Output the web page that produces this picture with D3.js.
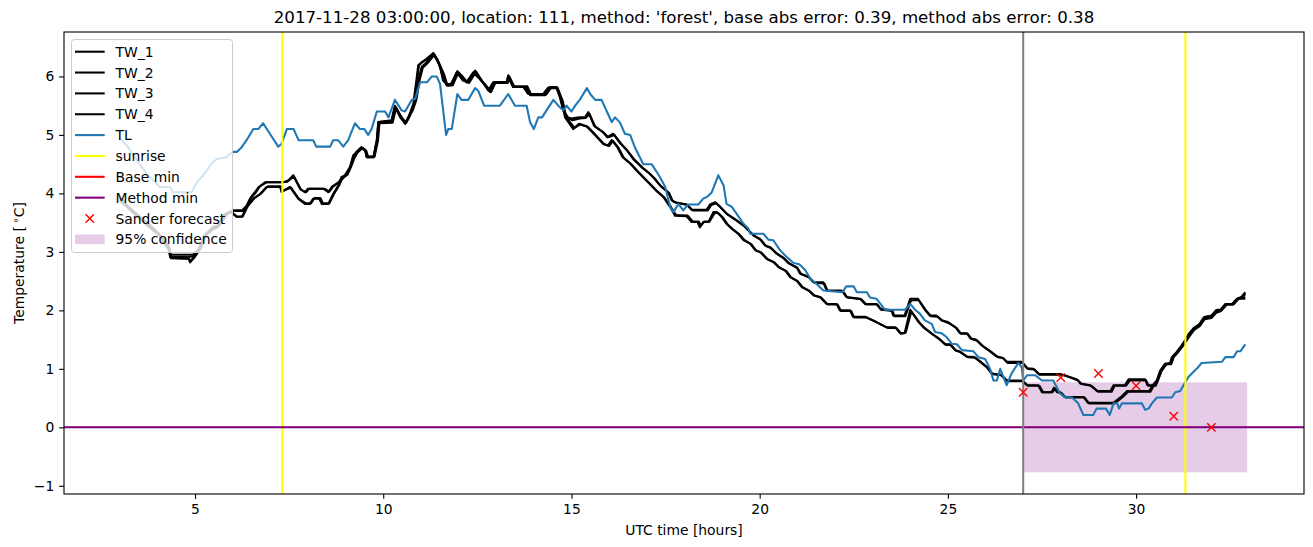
<!DOCTYPE html>
<html lang="en">
<head>
<meta charset="utf-8">
<title>Temperature forecast</title>
<style>
    body { margin: 0; background: #fff; }
    svg { display: block; font-family: "DejaVu Sans", sans-serif; }
    .tick text { font-family: "DejaVu Sans", sans-serif; font-size: 13.89px; fill: #000; }
    .tick line { stroke: #000; stroke-width: 1.1; }
</style>
</head>
<body>
<div id="container"></div>
<script src="https://cdn.jsdelivr.net/npm/d3@7"></script>
<script>
// ---- data (time in UTC hours, temperature in degC) ----
const TW_1 = [[3.0,3.95],[3.2,3.79],[3.45,3.65],[3.7,3.51],[4.0,3.34],[4.3,3.1],[4.35,2.95],[4.8,2.95],[4.95,2.95],[5.1,3.05],[5.25,3.28],[5.45,3.4],[5.6,3.45],[5.8,3.65],[6.0,3.71],[6.25,3.71],[6.37,3.79],[6.46,3.91],[6.59,4.02],[6.68,4.1],[6.86,4.19],[7.3,4.19],[7.45,4.2],[7.61,4.31],[7.79,4.08],[7.92,4.02],[8.0,4.08],[8.41,4.08],[8.54,4.02],[8.63,4.11],[8.81,4.19],[8.98,4.31],[9.12,4.45],[9.2,4.65],[9.42,4.79],[9.52,4.74],[9.56,4.62],[9.74,4.62],[9.83,4.91],[9.87,5.22],[10.22,5.25],[10.31,5.5],[10.45,5.33],[10.58,5.19],[10.67,5.3],[10.8,5.53],[10.88,5.93],[10.93,6.19],[11.02,6.24],[11.15,6.3],[11.33,6.4],[11.42,6.3],[11.51,6.16],[11.59,5.93],[11.68,5.87],[11.8,5.87],[11.97,6.09],[12.12,5.99],[12.21,5.9],[12.39,6.07],[12.52,5.99],[12.65,5.9],[12.79,5.76],[12.92,5.9],[13.28,5.9],[13.32,5.99],[13.45,5.82],[13.72,5.82],[13.85,5.7],[14.25,5.7],[14.38,5.81],[14.6,5.81],[14.69,5.65],[14.78,5.42],[14.9,5.3],[15.0,5.28],[15.2,5.3],[15.36,5.3],[15.45,5.39],[15.6,5.16],[15.84,5.05],[15.95,4.96],[16.11,5.02],[16.29,4.86],[16.47,4.74],[16.64,4.59],[16.86,4.45],[17.04,4.36],[17.17,4.28],[17.35,4.14],[17.57,4.02],[17.66,3.88],[17.75,3.85],[18.06,3.81],[18.19,3.72],[18.59,3.72],[18.68,3.81],[18.82,3.85],[18.95,3.77],[19.12,3.65],[19.25,3.6],[19.39,3.54],[19.57,3.45],[19.7,3.37],[19.84,3.28],[20.01,3.22],[20.14,3.11],[20.28,3.08],[20.45,2.97],[20.63,2.9],[20.76,2.81],[20.98,2.74],[21.07,2.63],[21.29,2.58],[21.43,2.48],[21.69,2.48],[21.78,2.34],[22.18,2.34],[22.3,2.23],[22.67,2.2],[22.8,2.11],[23.1,2.11],[23.2,2.03],[23.5,2.0],[23.55,1.91],[23.85,1.91],[24.0,2.2],[24.2,2.2],[24.39,2.01],[24.52,1.91],[24.7,1.91],[24.83,1.83],[25.0,1.8],[25.2,1.71],[25.32,1.61],[25.5,1.61],[25.6,1.52],[25.75,1.5],[25.9,1.4],[26.12,1.3],[26.3,1.21],[26.45,1.19],[26.56,1.12],[26.96,1.12],[27.1,1.01],[27.27,1.0],[27.41,0.91],[27.98,0.91],[28.1,0.89],[28.43,0.82],[28.52,0.75],[28.78,0.72],[28.96,0.62],[29.32,0.62],[29.4,0.72],[29.7,0.72],[29.8,0.82],[30.24,0.82],[30.3,0.72],[30.5,0.72],[30.55,0.8],[30.64,0.97],[30.77,1.09],[30.9,1.09],[30.95,1.2],[31.08,1.29],[31.21,1.4],[31.39,1.57],[31.52,1.69],[31.66,1.74],[31.79,1.86],[31.97,1.89],[32.1,1.97],[32.23,2.0],[32.37,2.11],[32.55,2.11],[32.68,2.2],[32.8,2.23],[32.9,2.31]];

const TW_2 = [[3.0,3.92],[3.22,3.77],[3.48,3.62],[3.72,3.5],[4.02,3.31],[4.32,3.05],[4.37,2.91],[4.8,2.91],[4.97,2.93],[5.12,3.05],[5.27,3.28],[5.47,3.42],[5.62,3.45],[5.82,3.65],[6.02,3.7],[6.28,3.7],[6.4,3.8],[6.5,3.93],[6.62,4.02],[6.72,4.12],[6.9,4.19],[7.35,4.19],[7.48,4.22],[7.63,4.29],[7.82,4.06],[7.95,4.02],[8.03,4.08],[8.44,4.08],[8.57,4.03],[8.66,4.11],[8.84,4.2],[9.0,4.3],[9.14,4.47],[9.23,4.66],[9.44,4.77],[9.54,4.72],[9.6,4.62],[9.76,4.63],[9.85,4.93],[9.89,5.22],[10.24,5.24],[10.33,5.48],[10.47,5.32],[10.6,5.2],[10.7,5.32],[10.82,5.55],[10.9,5.95],[10.95,6.19],[11.05,6.25],[11.18,6.3],[11.35,6.38],[11.45,6.28],[11.53,6.12],[11.61,5.92],[11.7,5.86],[11.83,5.88],[11.99,6.07],[12.14,5.97],[12.24,5.9],[12.41,6.05],[12.55,5.97],[12.68,5.88],[12.81,5.76],[12.95,5.9],[13.3,5.9],[13.34,5.97],[13.48,5.82],[13.75,5.82],[13.88,5.7],[14.28,5.7],[14.41,5.8],[14.62,5.8],[14.72,5.62],[14.8,5.4],[14.93,5.28],[15.03,5.25],[15.22,5.28],[15.38,5.29],[15.48,5.36],[15.63,5.14],[15.87,5.03],[15.98,4.96],[16.14,5.0],[16.32,4.85],[16.5,4.72],[16.67,4.58],[16.89,4.44],[17.07,4.34],[17.2,4.26],[17.38,4.12],[17.6,4.0],[17.69,3.87],[17.78,3.84],[18.09,3.8],[18.22,3.71],[18.62,3.71],[18.71,3.8],[18.85,3.83],[18.98,3.75],[19.15,3.64],[19.28,3.58],[19.42,3.52],[19.6,3.44],[19.73,3.35],[19.87,3.27],[20.04,3.2],[20.17,3.1],[20.31,3.06],[20.48,2.96],[20.66,2.88],[20.79,2.8],[21.01,2.72],[21.1,2.62],[21.32,2.56],[21.46,2.47],[21.72,2.46],[21.81,2.33],[22.21,2.33],[22.33,2.22],[22.7,2.19],[22.83,2.1],[23.13,2.1],[23.23,2.01],[23.53,1.99],[23.58,1.9],[23.87,1.9],[24.02,2.17],[24.22,2.18],[24.42,2.0],[24.55,1.9],[24.73,1.89],[24.86,1.82],[25.03,1.78],[25.23,1.7],[25.35,1.6],[25.53,1.6],[25.63,1.51],[25.78,1.48],[25.93,1.39],[26.15,1.29],[26.33,1.2],[26.48,1.18],[26.59,1.1],[26.99,1.1],[27.13,1.0],[27.3,0.99],[27.44,0.9],[28.01,0.9],[28.13,0.88],[28.46,0.8],[28.55,0.74],[28.81,0.71],[28.99,0.61],[29.35,0.61],[29.43,0.71],[29.73,0.71],[29.83,0.8],[30.27,0.8],[30.33,0.71],[30.52,0.71],[30.58,0.8],[30.67,0.96],[30.8,1.08],[30.93,1.08],[30.98,1.19],[31.11,1.28],[31.24,1.39],[31.42,1.56],[31.55,1.67],[31.69,1.73],[31.82,1.85],[32.0,1.87],[32.13,1.96],[32.26,1.99],[32.4,2.1],[32.58,2.1],[32.71,2.19],[32.83,2.22],[32.9,2.28]];

const TW_3 = [[3.0,3.9],[3.2,3.77],[3.45,3.62],[3.7,3.48],[4.03,3.3],[4.3,3.05],[4.34,2.91],[4.82,2.9],[4.87,2.82],[4.96,2.91],[5.13,3.05],[5.27,3.28],[5.49,3.4],[5.6,3.42],[5.84,3.65],[5.96,3.68],[6.1,3.6],[6.25,3.6],[6.37,3.77],[6.55,3.91],[6.73,3.99],[6.9,4.11],[7.26,4.11],[7.3,4.02],[7.52,4.11],[7.74,3.91],[7.92,3.82],[8.05,3.82],[8.14,3.91],[8.3,3.91],[8.37,3.82],[8.54,3.82],[8.67,3.99],[8.81,4.14],[8.89,4.28],[9.02,4.31],[9.12,4.45],[9.2,4.59],[9.29,4.71],[9.42,4.79],[9.52,4.74],[9.56,4.62],[9.74,4.62],[9.83,4.91],[9.87,5.22],[10.22,5.22],[10.31,5.48],[10.45,5.3],[10.58,5.2],[10.76,5.42],[10.85,5.59],[10.93,5.93],[11.02,6.16],[11.15,6.24],[11.33,6.39],[11.46,6.24],[11.59,6.05],[11.68,5.85],[11.82,5.85],[11.95,6.07],[12.12,5.93],[12.25,5.9],[12.44,6.1],[12.6,5.93],[12.84,5.73],[12.95,5.9],[13.28,5.9],[13.32,6.02],[13.45,5.82],[13.8,5.82],[13.9,5.68],[14.3,5.68],[14.43,5.82],[14.6,5.82],[14.74,5.59],[14.83,5.3],[15.05,5.1],[15.2,5.19],[15.4,5.15],[15.55,5.05],[15.84,4.85],[15.97,4.82],[16.07,4.91],[16.22,4.79],[16.36,4.62],[16.56,4.51],[16.73,4.39],[16.91,4.27],[17.08,4.16],[17.26,4.04],[17.44,3.94],[17.62,3.77],[17.75,3.62],[18.06,3.61],[18.19,3.51],[18.35,3.51],[18.41,3.42],[18.5,3.51],[18.64,3.51],[18.77,3.68],[18.86,3.68],[18.99,3.6],[19.12,3.48],[19.25,3.4],[19.43,3.31],[19.57,3.2],[19.75,3.14],[19.88,3.03],[20.01,3.0],[20.19,2.88],[20.36,2.83],[20.5,2.74],[20.68,2.68],[20.81,2.57],[20.98,2.51],[21.12,2.4],[21.3,2.34],[21.43,2.26],[21.6,2.23],[21.78,2.11],[22.04,2.11],[22.13,2.0],[22.4,2.0],[22.48,1.89],[22.8,1.89],[23.1,1.8],[23.37,1.71],[23.6,1.71],[23.73,1.61],[23.85,1.61],[24.0,2.01],[24.22,1.8],[24.35,1.71],[24.57,1.6],[24.75,1.52],[24.92,1.42],[25.05,1.42],[25.19,1.32],[25.3,1.3],[25.5,1.21],[25.7,1.2],[25.86,1.12],[26.03,1.03],[26.16,0.92],[26.4,0.9],[26.56,0.8],[26.96,0.8],[27.1,0.72],[27.4,0.72],[27.5,0.6],[27.75,0.6],[27.82,0.68],[27.9,0.6],[27.98,0.6],[28.1,0.52],[28.6,0.52],[28.72,0.42],[29.4,0.42],[29.6,0.52],[29.76,0.62],[30.35,0.62],[30.44,0.72],[30.55,0.8],[30.64,0.95],[30.77,1.07],[30.92,1.1],[30.97,1.2],[31.1,1.3],[31.23,1.4],[31.4,1.6],[31.54,1.7],[31.68,1.76],[31.8,1.88],[31.99,1.9],[32.12,2.0],[32.25,2.0],[32.39,2.1],[32.57,2.1],[32.7,2.2],[32.9,2.2]];

const TW_4 = [[3.0,3.88],[3.22,3.75],[3.47,3.6],[3.72,3.46],[4.05,3.28],[4.32,3.02],[4.36,2.89],[4.84,2.88],[4.89,2.84],[4.98,2.9],[5.15,3.06],[5.3,3.3],[5.52,3.4],[5.63,3.44],[5.87,3.66],[5.99,3.67],[6.12,3.6],[6.27,3.61],[6.4,3.78],[6.58,3.92],[6.76,4.0],[6.93,4.12],[7.28,4.12],[7.33,4.04],[7.55,4.1],[7.77,3.9],[7.95,3.83],[8.08,3.83],[8.17,3.92],[8.33,3.92],[8.4,3.83],[8.57,3.83],[8.7,4.0],[8.84,4.15],[8.92,4.27],[9.05,4.32],[9.15,4.46],[9.23,4.6],[9.32,4.7],[9.45,4.78],[9.55,4.73],[9.59,4.63],[9.77,4.63],[9.86,4.9],[9.9,5.2],[10.25,5.21],[10.34,5.46],[10.48,5.3],[10.61,5.21],[10.79,5.43],[10.88,5.6],[10.96,5.92],[11.05,6.15],[11.18,6.23],[11.36,6.37],[11.49,6.22],[11.62,6.03],[11.71,5.84],[11.85,5.85],[11.98,6.05],[12.15,5.93],[12.28,5.89],[12.47,6.08],[12.63,5.92],[12.87,5.74],[12.98,5.89],[13.31,5.89],[13.35,6.0],[13.48,5.83],[13.83,5.83],[13.93,5.69],[14.33,5.69],[14.46,5.81],[14.63,5.81],[14.77,5.58],[14.86,5.3],[15.08,5.12],[15.23,5.18],[15.43,5.14],[15.58,5.04],[15.87,4.84],[16.0,4.81],[16.1,4.9],[16.25,4.78],[16.39,4.61],[16.59,4.5],[16.76,4.38],[16.94,4.26],[17.11,4.15],[17.29,4.03],[17.47,3.93],[17.65,3.76],[17.78,3.63],[18.09,3.62],[18.22,3.52],[18.38,3.52],[18.44,3.45],[18.53,3.52],[18.67,3.52],[18.8,3.66],[18.89,3.67],[19.02,3.59],[19.15,3.47],[19.28,3.39],[19.46,3.3],[19.6,3.2],[19.78,3.13],[19.91,3.02],[20.04,2.99],[20.22,2.87],[20.39,2.82],[20.53,2.73],[20.71,2.67],[20.84,2.56],[21.01,2.5],[21.15,2.39],[21.33,2.33],[21.46,2.25],[21.63,2.22],[21.81,2.1],[22.07,2.1],[22.16,1.99],[22.43,1.99],[22.51,1.88],[22.83,1.88],[23.13,1.79],[23.4,1.7],[23.63,1.7],[23.76,1.6],[23.88,1.62],[24.03,1.98],[24.25,1.79],[24.38,1.7],[24.6,1.59],[24.78,1.51],[24.95,1.41],[25.08,1.41],[25.22,1.31],[25.33,1.29],[25.53,1.2],[25.73,1.19],[25.89,1.11],[26.06,1.02],[26.19,0.91],[26.43,0.89],[26.59,0.79],[26.99,0.79],[27.13,0.71],[27.43,0.71],[27.53,0.6],[27.78,0.6],[27.85,0.66],[27.93,0.6],[28.01,0.59],[28.13,0.51],[28.63,0.51],[28.75,0.41],[29.43,0.41],[29.63,0.51],[29.79,0.61],[30.38,0.61],[30.47,0.71],[30.58,0.81],[30.67,0.96],[30.8,1.08],[30.95,1.11],[31.0,1.21],[31.13,1.31],[31.26,1.41],[31.43,1.61],[31.57,1.71],[31.71,1.77],[31.83,1.89],[32.02,1.91],[32.15,2.01],[32.28,2.01],[32.42,2.11],[32.6,2.11],[32.73,2.21],[32.9,2.22]];

const TL = [[3.0,4.95],[3.19,4.82],[3.58,4.45],[3.8,4.28],[4.07,4.11],[4.34,4.11],[4.42,4.02],[4.91,4.02],[5.05,4.19],[5.18,4.28],[5.31,4.39],[5.44,4.51],[5.58,4.59],[5.84,4.62],[5.99,4.71],[6.11,4.71],[6.24,4.79],[6.37,4.91],[6.55,5.1],[6.68,5.1],[6.81,5.2],[6.99,5.02],[7.21,4.8],[7.3,4.85],[7.44,5.1],[7.62,5.1],[7.75,4.91],[8.14,4.91],[8.22,4.8],[8.59,4.8],[8.67,4.91],[8.8,4.91],[8.94,4.8],[9.07,4.91],[9.25,5.2],[9.38,5.1],[9.5,5.1],[9.6,5.0],[9.69,5.1],[9.83,5.4],[10.05,5.4],[10.14,5.3],[10.31,5.6],[10.49,5.42],[10.58,5.4],[10.76,5.6],[10.85,5.62],[10.98,5.9],[11.16,5.9],[11.29,6.0],[11.42,6.0],[11.51,5.87],[11.67,5.0],[11.73,5.1],[11.82,5.1],[11.97,5.7],[12.08,5.6],[12.26,5.6],[12.44,5.8],[12.52,5.76],[12.68,5.5],[13.1,5.5],[13.32,5.7],[13.5,5.5],[13.81,5.5],[13.9,5.22],[14.0,5.1],[14.12,5.3],[14.22,5.3],[14.34,5.42],[14.52,5.6],[14.65,5.5],[14.78,5.42],[14.87,5.5],[15.0,5.4],[15.1,5.5],[15.22,5.6],[15.41,5.8],[15.5,5.7],[15.63,5.6],[15.8,5.6],[15.94,5.4],[16.07,5.22],[16.16,5.3],[16.29,5.21],[16.42,5.02],[16.56,5.0],[16.69,4.78],[16.91,4.5],[17.13,4.5],[17.35,4.28],[17.49,4.11],[17.62,3.77],[17.71,3.68],[17.84,3.82],[17.97,3.71],[18.1,3.81],[18.37,3.81],[18.5,3.91],[18.6,3.94],[18.73,4.02],[18.9,4.31],[19.04,4.14],[19.12,3.82],[19.26,3.77],[19.39,3.65],[19.57,3.48],[19.7,3.4],[19.75,3.31],[20.1,3.31],[20.23,3.21],[20.36,3.2],[20.54,3.03],[20.72,2.91],[20.9,2.81],[21.05,2.79],[21.2,2.7],[21.35,2.54],[21.5,2.46],[21.69,2.34],[22.2,2.31],[22.3,2.41],[22.5,2.41],[22.58,2.31],[22.85,2.31],[22.93,2.22],[23.1,2.2],[23.2,2.12],[23.33,2.01],[23.86,2.01],[24.0,2.11],[24.13,2.01],[24.26,1.94],[24.39,1.83],[24.57,1.77],[24.66,1.63],[24.83,1.61],[24.97,1.54],[25.1,1.43],[25.24,1.42],[25.37,1.32],[25.68,1.3],[25.81,1.2],[25.99,1.17],[26.12,1.0],[26.21,0.8],[26.3,0.8],[26.39,1.0],[26.56,0.72],[26.69,0.92],[26.87,1.1],[26.96,1.03],[27.0,0.8],[27.1,0.89],[27.32,0.89],[27.5,0.8],[27.8,0.8],[27.98,0.58],[28.1,0.52],[28.3,0.51],[28.46,0.41],[28.6,0.21],[28.86,0.21],[28.95,0.32],[29.2,0.32],[29.3,0.21],[29.4,0.41],[29.5,0.41],[29.55,0.32],[29.62,0.41],[30.15,0.41],[30.24,0.3],[30.33,0.32],[30.42,0.41],[30.55,0.51],[30.95,0.51],[31.04,0.6],[31.17,0.62],[31.26,0.72],[31.39,0.86],[31.48,0.92],[31.61,1.0],[31.74,1.1],[32.28,1.12],[32.37,1.2],[32.59,1.2],[32.68,1.3],[32.77,1.3],[32.9,1.42]];

const sunriseHours = [7.32, 31.31];
const forecastHour = 27;
const baseMin = 0.0;
const methodMin = 0.0;
const sanderHours = [27, 28, 29, 30, 31, 32];
const sanderValues = [0.6, 0.85, 0.92, 0.71, 0.19, 0.0];
const confidenceHours = [27, 32.95];
const confidenceRange = [-0.77, 0.77];

const xTicks = [5, 10, 15, 20, 25, 30];
const yTicks = [-1, 0, 1, 2, 3, 4, 5, 6];
const legendLabels = ["TW_1", "TW_2", "TW_3", "TW_4", "TL", "sunrise", "Base min", "Method min", "Sander forecast", "95% confidence"];
const titleText = "2017-11-28 03:00:00, location: 111, method: 'forest', base abs error: 0.39, method abs error: 0.38";

// ---- layout ----
const width = 1313, height = 547;
const mLeft = 64, mRight = 1304, mTop = 32, mBottom = 494;
const lw = 2.08; // 1.5pt

const svg = d3.select("#container").append("svg")
    .attr("width", width).attr("height", height);
svg.append("rect").attr("width", width).attr("height", height).attr("fill", "#fff");

const x = d3.scaleLinear().domain([1.52, 34.46]).range([mLeft, mRight]);
const y = d3.scaleLinear().domain([-1.14, 6.76]).range([mBottom, mTop]);

svg.append("clipPath").attr("id", "plot-clip")
    .append("rect").attr("x", mLeft).attr("y", mTop)
    .attr("width", mRight - mLeft).attr("height", mBottom - mTop);

const plot = svg.append("g").attr("clip-path", "url(#plot-clip)");

// confidence band (sits below the lines, like a fill in matplotlib)
plot.append("rect")
    .attr("x", x(confidenceHours[0]))
    .attr("y", y(confidenceRange[1]))
    .attr("width", x(confidenceHours[1]) - x(confidenceHours[0]))
    .attr("height", y(confidenceRange[0]) - y(confidenceRange[1]))
    .attr("fill", "purple").attr("fill-opacity", 0.2);

const line = d3.line().x(d => x(d[0])).y(d => y(d[1]));

// temperature series
[TW_1, TW_2, TW_3, TW_4].forEach(s => {
    plot.append("path").datum(s)
        .attr("d", line)
        .attr("fill", "none").attr("stroke", "#000")
        .attr("stroke-width", lw).attr("stroke-linejoin", "round");
});
plot.append("path").datum(TL)
    .attr("d", line)
    .attr("fill", "none").attr("stroke", "#1f77b4")
    .attr("stroke-width", lw).attr("stroke-linejoin", "round");

// sunrise lines
sunriseHours.forEach(h => {
    plot.append("line")
        .attr("x1", x(h)).attr("x2", x(h)).attr("y1", mTop).attr("y2", mBottom)
        .attr("stroke", "yellow").attr("stroke-width", lw);
});

// base min sits under method min (same level), so only purple shows
plot.append("line")
    .attr("x1", mLeft).attr("x2", mRight).attr("y1", y(baseMin)).attr("y2", y(baseMin))
    .attr("stroke", "red").attr("stroke-width", 1.2);
plot.append("line")
    .attr("x1", mLeft).attr("x2", mRight).attr("y1", y(methodMin)).attr("y2", y(methodMin))
    .attr("stroke", "purple").attr("stroke-width", lw);

// forecast time
plot.append("line")
    .attr("x1", x(forecastHour)).attr("x2", x(forecastHour)).attr("y1", mTop).attr("y2", mBottom)
    .attr("stroke", "grey").attr("stroke-width", lw);

// Sander forecast markers
const ms = 4.2;
sanderHours.forEach((h, i) => {
    const cx = x(h), cy = y(sanderValues[i]);
    plot.append("path")
        .attr("d", `M${cx - ms},${cy - ms}L${cx + ms},${cy + ms}M${cx - ms},${cy + ms}L${cx + ms},${cy - ms}`)
        .attr("stroke", "red").attr("stroke-width", 1.4).attr("fill", "none");
});

// axes
const tk = 4.86;
const xAxis = svg.append("g").attr("transform", `translate(0,${mBottom})`)
    .call(d3.axisBottom(x).tickValues(xTicks).tickSize(tk).tickPadding(tk).tickFormat(d3.format("d")));
xAxis.select(".domain").remove();
const yAxis = svg.append("g").attr("transform", `translate(${mLeft},0)`)
    .call(d3.axisLeft(y).tickValues(yTicks).tickSize(tk).tickPadding(tk).tickFormat(d3.format("d")));
yAxis.select(".domain").remove();
svg.selectAll(".tick text").attr("font-family", "DejaVu Sans").attr("font-size", 13.89);

svg.append("rect")
    .attr("x", mLeft).attr("y", mTop)
    .attr("width", mRight - mLeft).attr("height", mBottom - mTop)
    .attr("fill", "none").attr("stroke", "#000").attr("stroke-width", 1.1);

// axis labels and title
svg.append("text")
    .attr("x", (mLeft + mRight) / 2).attr("y", 535)
    .attr("text-anchor", "middle").attr("font-size", 13.89)
    .text("UTC time [hours]");

const yl = svg.append("text")
    .attr("transform", `translate(24,${(mTop + mBottom) / 2}) rotate(-90)`)
    .attr("text-anchor", "middle").attr("font-size", 13.89);
yl.append("tspan").text("Temperature [\u2009");
yl.append("tspan").attr("font-size", 10).attr("dy", -5).text("\u2218");
yl.append("tspan").attr("dy", 5).text("C]");

svg.append("text")
    .attr("x", (mLeft + mRight) / 2).attr("y", 23)
    .attr("text-anchor", "middle").attr("font-size", 16.67)
    .text(titleText);

// legend
const lg = svg.append("g");
const lx = 71.5, ly = 39.5, rowH = 20.85;
lg.append("rect")
    .attr("x", lx).attr("y", ly).attr("width", 161).attr("height", 213)
    .attr("rx", 3).attr("fill", "#fff").attr("fill-opacity", 0.8)
    .attr("stroke", "#cccccc").attr("stroke-width", 1);

const handleColors = ["#000", "#000", "#000", "#000", "#1f77b4", "yellow", "red", "purple"];
legendLabels.forEach((label, i) => {
    const cy = 51.7 + i * rowH;
    if (i < handleColors.length) {
        lg.append("line").attr("x1", 75).attr("x2", 104.7).attr("y1", cy).attr("y2", cy)
            .attr("stroke", handleColors[i]).attr("stroke-width", lw);
    } else if (label === "Sander forecast") {
        const cx = 89.8;
        lg.append("path")
            .attr("d", `M${cx - ms},${cy - ms}L${cx + ms},${cy + ms}M${cx - ms},${cy + ms}L${cx + ms},${cy - ms}`)
            .attr("stroke", "red").attr("stroke-width", 1.4);
    } else {
        lg.append("rect").attr("x", 75).attr("y", cy - 4.9).attr("width", 29.7).attr("height", 9.7)
            .attr("fill", "purple").attr("fill-opacity", 0.2);
    }
    lg.append("text").attr("x", 115.5).attr("y", cy + 5).attr("font-size", 13.89).text(label);
});
</script>
</body>
</html>
